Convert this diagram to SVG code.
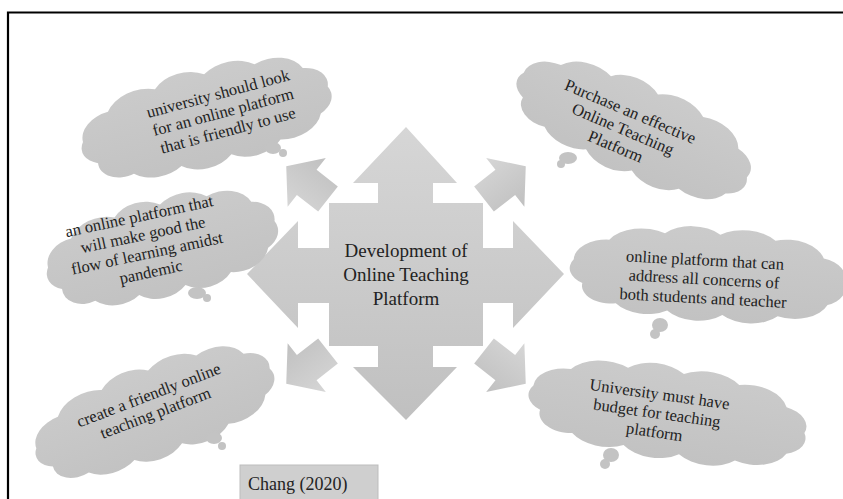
<svg xmlns="http://www.w3.org/2000/svg" width="843" height="499" viewBox="0 0 843 499">
  <defs>
    <linearGradient id="arrowFill" x1="0" y1="0" x2="0" y2="1">
      <stop offset="0" stop-color="#d6d6d6"/>
      <stop offset="1" stop-color="#c0c0c0"/>
    </linearGradient>
    <linearGradient id="cloudFill" x1="0" y1="0" x2="0" y2="1">
      <stop offset="0" stop-color="#cbcbcb"/>
      <stop offset="1" stop-color="#c2c2c2"/>
    </linearGradient>
    <!-- cloud outline, nominal size about 224 x 123 centred on the origin -->
    <path id="cloud" d="M -100,20 A 22,22 0 0 1 -108,-10 A 28,28 0 0 1 -80,-38 A 32,32 0 0 1 -35,-50 A 30,30 0 0 1 10,-52 A 32,32 0 0 1 55,-48 A 30,30 0 0 1 95,-28 A 24,24 0 0 1 112,2 A 24,24 0 0 1 100,32 A 30,30 0 0 1 60,50 A 30,30 0 0 1 15,52 A 30,30 0 0 1 -30,50 A 30,30 0 0 1 -72,44 A 22,22 0 0 1 -100,20 Z"/>
    <!-- small diagonal arrow pointing along +x, shaft end at origin -->
    <polygon id="diag" points="0,-16 27,-16 27,-31 53,0 27,31 27,16 0,16"/>
  </defs>
  <style>
    .frame { stroke: #000; stroke-width: 2.2; fill: none; }
    .arrow { fill: url(#arrowFill); }
    .cloud { fill: url(#cloudFill); }
    .tail { fill: #c3c3c3; }
    .txt { font-family: "Liberation Serif", "Times New Roman", serif; fill: #222; text-anchor: middle; }
    .ctext { font-size: 16.5px; }
    .main { font-size: 19px; }
    .cite { font-size: 18px; text-anchor: start; }
  </style>

  <rect width="843" height="499" fill="#fff"/>
  <!-- page frame (top and left rules) -->
  <path class="frame" d="M 8,499 V 12.5 H 843"/>

  <!-- central node with the four straight arrows -->
  <g id="center">
    <polygon class="arrow" points="406,127 457,183 433,183 433,203 483,203 483,248 513,248 513,221 564,274 513,328 513,303 483,303 483,346 433,346 433,367 457,367 406,420 353,367 378,367 378,346 329,346 329,303 298,303 298,328 247,274 298,221 298,248 329,248 329,203 378,203 378,183 353,183"/>
    <text class="txt main" x="406" y="257">Development of</text>
    <text class="txt main" x="406" y="281">Online Teaching</text>
    <text class="txt main" x="406" y="305">Platform</text>
  </g>

  <!-- diagonal connectors -->
  <g id="connectors">
    <use href="#diag" class="arrow" transform="translate(328,199) rotate(-142)"/>
    <use href="#diag" class="arrow" transform="translate(484,199) rotate(-38)"/>
    <use href="#diag" class="arrow" transform="translate(328,351) rotate(142)"/>
    <use href="#diag" class="arrow" transform="translate(484,351) rotate(38)"/>
  </g>

  <g id="cloud-friendly-use">
    <use href="#cloud" class="cloud" transform="translate(204,118) rotate(-15) scale(1.14,0.81)"/>
    <ellipse class="tail" cx="273" cy="148" rx="8" ry="6"/>
    <circle class="tail" cx="283" cy="153" r="4"/>
    <g transform="translate(223,112) rotate(-15)">
      <text class="txt ctext" x="0" y="-13.5">university should look</text>
      <text class="txt ctext" x="0" y="5.5">for an online platform</text>
      <text class="txt ctext" x="0" y="24.5">that is friendly to use</text>
    </g>
  </g>

  <g id="cloud-purchase">
    <use href="#cloud" class="cloud" transform="translate(632,127) rotate(23) scale(1.12,0.77)"/>
    <ellipse class="tail" cx="568" cy="158" rx="9" ry="6"/>
    <circle class="tail" cx="561" cy="164" r="4"/>
    <g transform="translate(623,129) rotate(23)">
      <text class="txt ctext" x="0" y="-13.5">Purchase an effective</text>
      <text class="txt ctext" x="0" y="5.5">Online Teaching</text>
      <text class="txt ctext" x="0" y="24.5">Platform</text>
    </g>
  </g>

  <g id="cloud-flow">
    <use href="#cloud" class="cloud" transform="translate(160,248) rotate(-14) scale(1.05,0.81)"/>
    <ellipse class="tail" cx="197" cy="293" rx="9" ry="6"/>
    <circle class="tail" cx="207" cy="298" r="4"/>
    <g transform="translate(145,244) rotate(-12)">
      <text class="txt ctext" x="0" y="-23">an online platform that</text>
      <text class="txt ctext" x="0" y="-4">will make good the</text>
      <text class="txt ctext" x="0" y="15">flow of learning amidst</text>
      <text class="txt ctext" x="0" y="34">pandemic</text>
    </g>
  </g>

  <g id="cloud-concerns">
    <use href="#cloud" class="cloud" transform="translate(706,274) rotate(3) scale(1.23,0.77)"/>
    <ellipse class="tail" cx="660" cy="325" rx="8" ry="7"/>
    <circle class="tail" cx="655" cy="334" r="5"/>
    <g transform="translate(704,279) rotate(3)">
      <text class="txt ctext" x="0" y="-13.5">online platform that can</text>
      <text class="txt ctext" x="0" y="5.5">address all concerns of</text>
      <text class="txt ctext" x="0" y="24.5">both students and teacher</text>
    </g>
  </g>

  <g id="cloud-create">
    <use href="#cloud" class="cloud" transform="translate(152,412) rotate(-21) scale(1.12,0.77)"/>
    <ellipse class="tail" cx="214" cy="438" rx="8" ry="6"/>
    <circle class="tail" cx="222" cy="446" r="4"/>
    <g transform="translate(152,404) rotate(-21)">
      <text class="txt ctext" x="0" y="-4">create a friendly online</text>
      <text class="txt ctext" x="0" y="15">teaching platform</text>
    </g>
  </g>

  <g id="cloud-budget">
    <use href="#cloud" class="cloud" transform="translate(666,412) rotate(8) scale(1.25,0.77)"/>
    <ellipse class="tail" cx="611" cy="455" rx="8" ry="7"/>
    <circle class="tail" cx="605" cy="464" r="5"/>
    <g transform="translate(657,413) rotate(8)">
      <text class="txt ctext" x="0" y="-13.5">University must have</text>
      <text class="txt ctext" x="0" y="5.5">budget for teaching</text>
      <text class="txt ctext" x="0" y="24.5">platform</text>
    </g>
  </g>

  <g id="citation">
    <rect x="240" y="465" width="138" height="36" fill="#cfcfcf" stroke="#bdbdbd" stroke-width="1"/>
    <text class="txt cite" x="248" y="490">Chang (2020)</text>
  </g>
</svg>
